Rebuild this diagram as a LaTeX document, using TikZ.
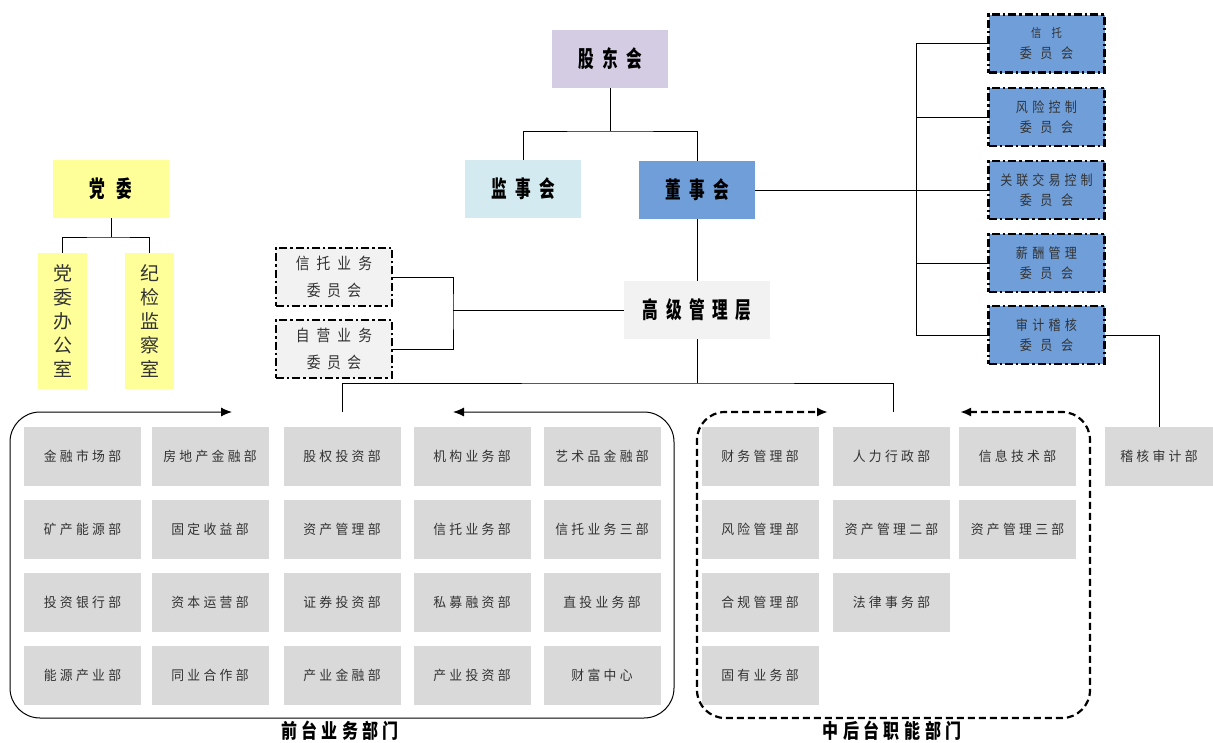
\documentclass[tikz,border=0pt]{standalone}
\usepackage{fontspec}
\usetikzlibrary{arrows.meta}
\newfontfamily\cjk{Noto Sans CJK SC}
\newfontfamily\cjkg{Noto Sans CJK SC}[FakeStretch=0.95]
\newfontfamily\cjkhd{Noto Sans CJK SC}[FakeStretch=0.68]
\newfontfamily\cjklb{Noto Sans CJK SC}[FakeStretch=0.8]
\newfontfamily\cjkcm{Noto Sans CJK SC}[FakeStretch=0.86]
\definecolor{gdc}{HTML}{D4CCE2}
\definecolor{jsc}{HTML}{D2EAF0}
\definecolor{dsc}{HTML}{6F9ED9}
\definecolor{lgc}{HTML}{F2F2F2}
\definecolor{dgc}{HTML}{D9D9D9}
\definecolor{ylc}{HTML}{FFFF99}
\definecolor{txc}{HTML}{333333}
\makeatletter
\newcommand\sptext[2]{\begingroup\def\sp@gap{\hspace{#1}}\sp@first#2\relax\endgroup}
\def\sp@first#1{#1\sp@rest}
\def\sp@rest#1{\ifx\relax#1\else\sp@gap#1\expandafter\sp@rest\fi}
\makeatother
\newcommand\dt[1]{\sptext{3.3pt}{#1}}
\tikzset{
  dept/.style={fill=dgc, minimum width=117pt, minimum height=59pt, inner sep=0pt, text=txc, font=\cjkg\fontsize{13.5}{15}\selectfont},
  head/.style={inner sep=0pt, minimum width=116pt, minimum height=58pt, font=\cjkhd\bfseries\fontsize{23}{24}\selectfont},
  cmtL/.style={fill=lgc, draw=black, line width=2.4pt, dash pattern=on 8pt off 3pt on 2.4pt off 3pt, minimum width=116pt, minimum height=58pt, inner sep=0pt, align=center, text=txc, font=\cjkcm\fontsize{16}{27}\selectfont},
  cmtR/.style={cmtL, fill=dsc, text=black!80, font=\cjkcm\fontsize{14}{20.5}\selectfont},
  vbox/.style={fill=ylc, minimum width=49pt, minimum height=136pt, inner sep=0pt, align=center, text=txc, font=\cjk\fontsize{19}{24}\selectfont},
  conn/.style={draw=black, line width=0.9pt},
  lab/.style={font=\cjklb\bfseries\fontsize{20}{21}\selectfont},
  tip/.style={{Latex[length=11pt,width=9pt]}-{Latex[length=11pt,width=9pt]}}
}
\begin{document}
\begin{tikzpicture}[x=1pt,y=-1pt]
\useasboundingbox (0,0) rectangle (1213,742);
% top
\node[head, fill=gdc] (gd) at (610,59) {\sptext{8.5pt}{股东会}};
\node[head, fill=jsc] (jsh) at (523,189) {\sptext{8.5pt}{监事会}};
\node[head, fill=dsc] (dsh) at (697,190) {\sptext{8.5pt}{董事会}};
\node[head, fill=lgc, minimum width=146pt] (gj) at (697,310) {\sptext{7.5pt}{高级管理层}};
% party
\node[head, fill=ylc] (dw) at (111,189) {党\hspace{11pt}委};
\node[vbox] (dwb) at (62.5,321) {党\\委\\办\\公\\室};
\node[vbox] (jj) at (149.5,321) {纪\\检\\监\\察\\室};
% left committees
\node[cmtL] (xtyw) at (334,277) {\sptext{7pt}{信托业务}\\\sptext{6.5pt}{委员会}};
\node[cmtL] (zyyw) at (334,349) {\sptext{7pt}{自营业务}\\\sptext{6.5pt}{委员会}};
% right committees
\node[cmtR] (c1) at (1046.5,43.5) {{\fontsize{12}{20.5}\selectfont 信\hspace{10pt}托}\\\sptext{8.5pt}{委员会}};
\node[cmtR] (c2) at (1046.5,117) {\sptext{4.3pt}{风险控制}\\\sptext{8.5pt}{委员会}};
\node[cmtR] (c3) at (1046.5,190) {\sptext{4pt}{关联交易控制}\\\sptext{8.5pt}{委员会}};
\node[cmtR] (c4) at (1046.5,263) {\sptext{4.3pt}{薪酬管理}\\\sptext{8.5pt}{委员会}};
\node[cmtR] (c5) at (1046.5,335) {\sptext{4.3pt}{审计稽核}\\\sptext{8.5pt}{委员会}};
% front grid
\node[dept] (f11) at (82.5,456.5) {\dt{金融市场部}};
\node[dept] (f12) at (210,456.5) {\dt{房地产金融部}};
\node[dept] (f13) at (342,456.5) {\dt{股权投资部}};
\node[dept] (f14) at (472,456.5) {\dt{机构业务部}};
\node[dept] (f15) at (602,456.5) {\dt{艺术品金融部}};
\node[dept] (f21) at (82.5,529) {\dt{矿产能源部}};
\node[dept] (f22) at (210,529) {\dt{固定收益部}};
\node[dept] (f23) at (342,529) {\dt{资产管理部}};
\node[dept] (f24) at (472,529) {\dt{信托业务部}};
\node[dept] (f25) at (602,529) {\dt{信托业务三部}};
\node[dept] (f31) at (82.5,602.5) {\dt{投资银行部}};
\node[dept] (f32) at (210,602.5) {\dt{资本运营部}};
\node[dept] (f33) at (342,602.5) {\dt{证券投资部}};
\node[dept] (f34) at (472,602.5) {\dt{私募融资部}};
\node[dept] (f35) at (602,602.5) {\dt{直投业务部}};
\node[dept] (f41) at (82.5,675.5) {\dt{能源产业部}};
\node[dept] (f42) at (210,675.5) {\dt{同业合作部}};
\node[dept] (f43) at (342,675.5) {\dt{产业金融部}};
\node[dept] (f44) at (472,675.5) {\dt{产业投资部}};
\node[dept] (f45) at (602,675.5) {\dt{财富中心}};
% back grid
\node[dept] (b11) at (760,456.5) {\dt{财务管理部}};
\node[dept] (b12) at (891.5,456.5) {\dt{人力行政部}};
\node[dept] (b13) at (1017.5,456.5) {\dt{信息技术部}};
\node[dept] (b21) at (760,529) {\dt{风险管理部}};
\node[dept] (b22) at (891.5,529) {\dt{资产管理二部}};
\node[dept] (b23) at (1017.5,529) {\dt{资产管理三部}};
\node[dept] (b31) at (760,602.5) {\dt{合规管理部}};
\node[dept] (b32) at (891.5,602.5) {\dt{法律事务部}};
\node[dept] (b41) at (760,675.5) {\dt{固有业务部}};
\node[dept, minimum width=108pt] (jh) at (1159,456.5) {\dt{稽核审计部}};
% labels
\node[lab] (flab) at (340,731) {\sptext{4.4pt}{前台业务部门}};
\node[lab] (blab) at (892,731) {\sptext{4.5pt}{中后台职能部门}};
% junction coordinates
\coordinate (gdj) at (610,131);
\coordinate (dwj) at (111,237);
\coordinate (lj) at (453,310);
\coordinate (rj) at (916,190);
\coordinate (bus) at (697,383);
\coordinate (ftop) at (342,412);
\coordinate (btop) at (893,412);
\coordinate (fa) at (453,412);
\coordinate (fb) at (232,412);
\coordinate (ba) at (960,412);
\coordinate (bb) at (828,412);
% connectors
\draw[conn] (gd.south) -- (gdj);
\draw[conn] (jsh.north) |- (gdj) -| (dsh.north);
\draw[conn] (dsh.south) -- (gj.north);
\draw[conn] (dw.south) -- (dwj);
\draw[conn] (dwb.north) |- (dwj) -| (jj.north);
\draw[conn] (gj.west) -- (lj);
\draw[conn] (xtyw.east) -| (lj) |- (zyyw.east);
\draw[conn] (dsh.east) -- (rj);
\foreach \c in {c1,c2,c3,c4,c5} {\draw[conn] (\c.west) -| (rj);}
\draw[conn] (c5.east) -| (jh.north);
\draw[conn] (gj.south) -- (bus);
\draw[conn] (ftop) |- (bus) -| (btop);
% frames
\draw[line width=1pt, rounded corners=30pt, tip] (fa) -- (674,412) -- (674,718) -- (10,718) -- (10,412) -- (fb);
\draw[line width=2.2pt, dash pattern=on 7pt off 4pt, rounded corners=28pt, tip] (ba) -- (1090,412) -- (1090,718) -- (697,718) -- (697,412) -- (bb);
\end{tikzpicture}
\end{document}
